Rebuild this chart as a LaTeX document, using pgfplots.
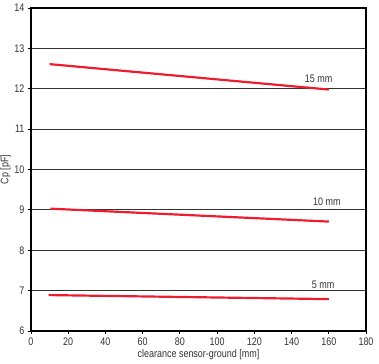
\documentclass[border=0pt]{standalone}
\usepackage{fontspec}
\setmainfont{Liberation Sans}[FakeStretch=0.82]
\usepackage{pgfplots}
\pgfplotsset{compat=1.18}
\definecolor{cpred}{RGB}{237,28,46}
\definecolor{gridc}{RGB}{50,50,50}
\begin{document}
\begin{tikzpicture}[x=1bp,y=1bp]
\begin{axis}[
  name=ax,
  scale only axis,
  width=335bp, height=323bp,
  xmin=0, xmax=180, ymin=6, ymax=14,
  xtick={0,20,...,180}, ytick={6,7,...,14},
  tick align=outside,
  major tick length=3bp,
  tick style={black, line width=0.8pt},
  xtick pos=bottom, ytick pos=left,
  ymajorgrids,
  major grid style={gridc, line width=0.9pt},
  axis line style={black, line width=1.1pt},
  /pgf/number format/assume math mode=true,
  ticklabel style={font=\fontsize{11}{13}\selectfont, text=black!80},
  label style={font=\fontsize{11}{13}\selectfont, text=black!80},
  xlabel={clearance sensor-ground [mm]},
  ylabel={Cp [pF]},
  xlabel style={at={(axis description cs:0.5,-0.072)}, anchor=center},
  ylabel style={at={(axis description cs:-0.076,0.5)}, anchor=center},
  clip=false,
]
\addplot[cpred, line width=2.2pt] coordinates {(10,12.61) (160,11.98)};
\addplot[cpred, line width=2.2pt] coordinates {(10.4,9.03) (160,8.71)};
\addplot[cpred, line width=2.2pt] coordinates {(9.5,6.89) (160,6.79)};
\node[font=\fontsize{11}{13}\selectfont, text=black!80] at (axis cs:154.5,12.24) {15 mm};
\node[font=\fontsize{11}{13}\selectfont, text=black!80] at (axis cs:159,9.19) {10 mm};
\node[font=\fontsize{11}{13}\selectfont, text=black!80] at (axis cs:157,7.15) {5 mm};
\end{axis}
\pgfresetboundingbox
\path ([shift={(-31bp,-33bp)}]ax.south west) rectangle ([shift={(13bp,8bp)}]ax.north east);
\end{tikzpicture}
\end{document}
